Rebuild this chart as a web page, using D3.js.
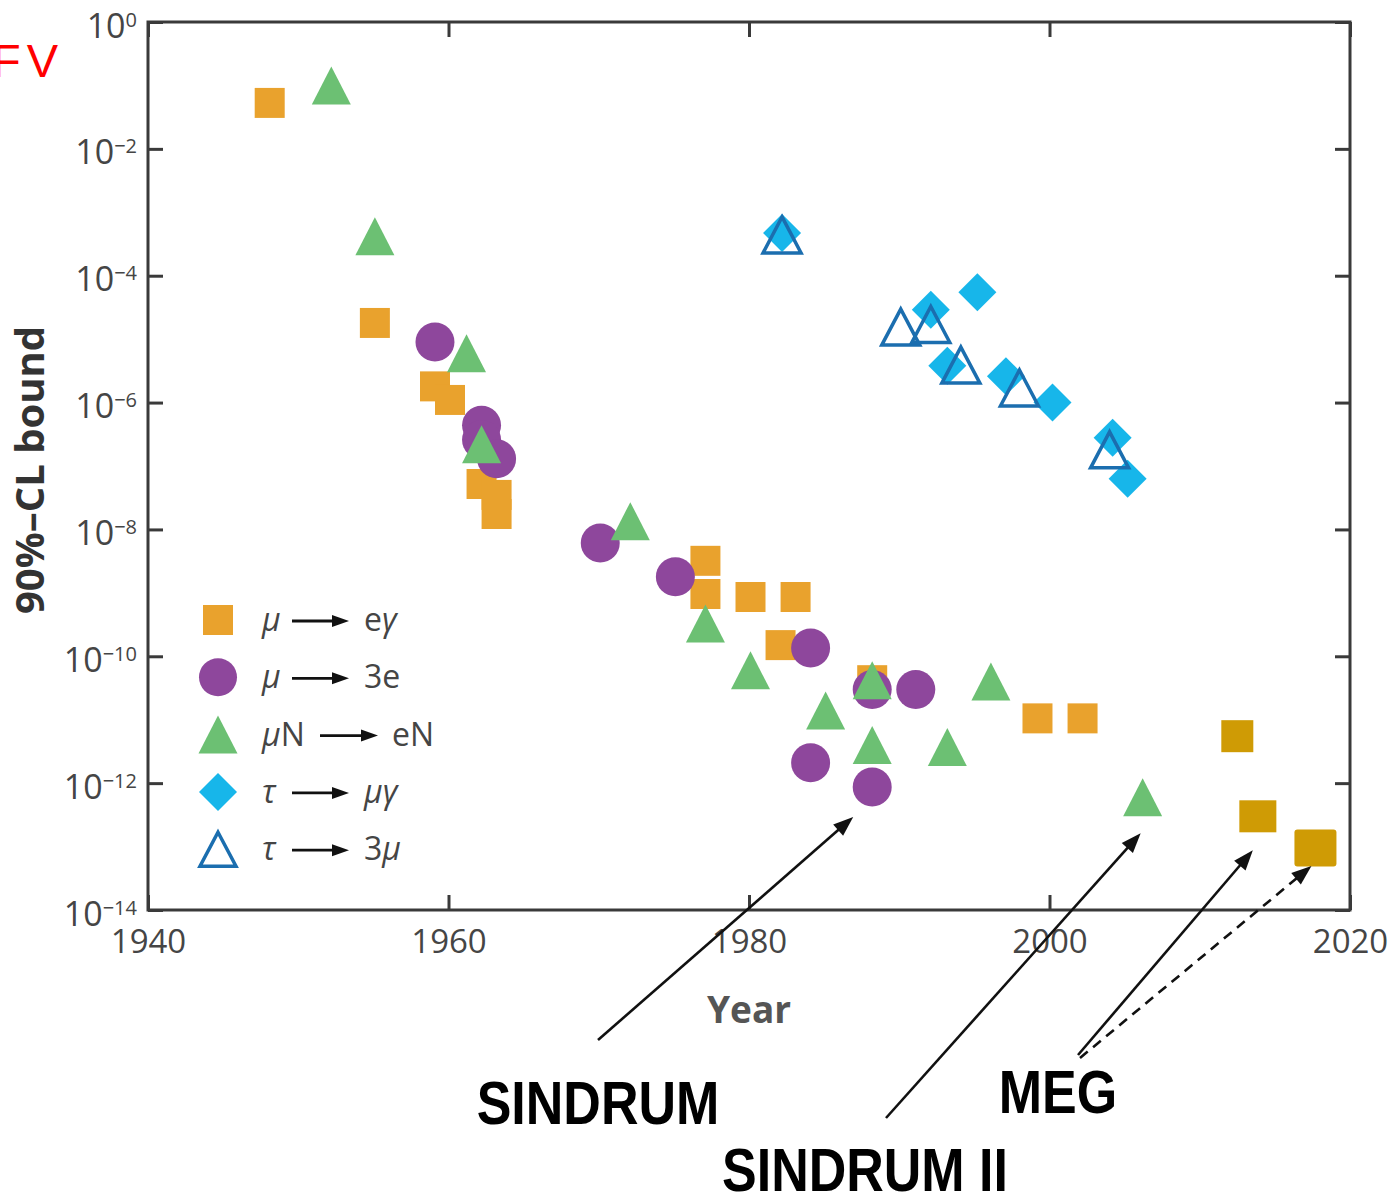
<!DOCTYPE html>
<html>
<head>
<meta charset="utf-8">
<script src="https://cdn.jsdelivr.net/npm/d3@7"></script>
<style>
  html, body { margin: 0; padding: 0; background: #fff; overflow: hidden; }
  svg { display: block; font-family: "Open Sans", "DejaVu Sans", sans-serif; }
</style>
</head>
<body>
<svg id="chart" width="1391" height="1197"></svg>
<script>
// mu -> e gamma (earlier experiments)
const muEgYear = [1948.1, 1955.1, 1959.1, 1960.1, 1962.2, 1963.2, 1963.2, 1977.1, 1977.1, 1980.1, 1982.1, 1983.1, 1988.2, 1999.2, 2002.2];
const muEgValue = [5.3e-2, 1.8e-5, 1.8e-6, 1.1e-6, 5.2e-8, 3.5e-8, 1.75e-8, 3.2e-9, 9.6e-10, 8.6e-10, 1.5e-10, 8.6e-10, 4.2e-11, 1.05e-11, 1.05e-11];
// MEG results
const megYear = [2012.5, 2013.8, 2017.7];
const megValue = [5.5e-12, 3.0e-13, 9.5e-14];
// mu -> 3e
const mu3eYear = [1959.1, 1962.2, 1962.2, 1963.2, 1970.1, 1975.1, 1984.1, 1988.2, 1991.1, 1984.1, 1988.2];
const mu3eValue = [9e-6, 4.4e-7, 2.6e-7, 1.3e-7, 6.1e-9, 1.8e-9, 1.35e-10, 3e-11, 3e-11, 2.1e-12, 8.7e-13];
// mu N -> e N
const muNYear = [1952.2, 1955.1, 1961.2, 1962.2, 1972.1, 1977.1, 1980.1, 1985.1, 1988.2, 1988.2, 1993.2, 1996.1, 2006.2];
const muNValue = [1e-1, 4.2e-4, 6e-6, 2.2e-7, 1.35e-8, 3.3e-10, 6e-11, 1.4e-11, 4.2e-11, 4e-12, 3.7e-12, 4e-11, 6e-13];
// tau -> mu gamma
const tauMuGYear = [1982.2, 1992.1, 1995.2, 1993.2, 1997.1, 2000.2, 2004.2, 2005.2];
const tauMuGValue = [4.7e-4, 2.9e-5, 5.5e-5, 3.8e-6, 2.6e-6, 1e-6, 2.8e-7, 6.3e-8];
// tau -> 3 mu
const tau3MuYear = [1982.2, 1990.1, 1992.1, 1994.1, 1998.0, 2004.0];
const tau3MuValue = [4.4e-4, 1.55e-5, 1.7e-5, 3.9e-6, 1.7e-6, 1.8e-7];

const xTicks = [1940, 1960, 1980, 2000, 2020];
const yTickExp = [0, -2, -4, -6, -8, -10, -12, -14];
const legendLabels = [["μ", "eγ"], ["μ", "3e"], ["μN", "eN"], ["τ", "μγ"], ["τ", "3μ"]];

const col = { orange: "#E9A22D", gold: "#CF9B05", purple: "#8E479C", green: "#6CC073", cyan: "#17B6EA", blue: "#1B6EAF", axis: "#3a3a3a", text: "#454545" };
const megSizes = [32, 35, 40];

const svg = d3.select("#chart");
const x = d3.scaleLinear().domain([1940, 2020]).range([148, 1350]);
const y = d3.scaleLog().domain([1, 1e-14]).range([22, 910]);

// ---- axes
function styleAxis(g) {
  g.select(".domain").remove();
  g.selectAll(".tick line").attr("stroke", col.axis).attr("stroke-width", 3);
  g.selectAll(".tick text").attr("fill", col.text).attr("font-size", 33);
}
svg.append("g").attr("transform", "translate(0,910)")
  .call(d3.axisBottom(x).tickValues(xTicks).tickFormat(d3.format("d")).tickSize(-15).tickPadding(20))
  .call(styleAxis).call(g => g.attr("font-family", null));
svg.append("g").attr("transform", "translate(0,22)")
  .call(d3.axisTop(x).tickValues(xTicks).tickFormat("").tickSize(-15))
  .call(styleAxis);
svg.append("g").attr("transform", "translate(148,0)")
  .call(d3.axisLeft(y).tickValues(yTickExp.map(e => Math.pow(10, e))).tickSize(-15).tickPadding(11).tickFormat(""))
  .call(styleAxis)
  .call(g => g.attr("font-family", null))
  .selectAll(".tick text")
  .each(function (d) {
    const t = d3.select(this).attr("dy", null).attr("font-size", 34);
    const e = Math.round(Math.log10(d));
    t.append("tspan").attr("dy", 15).text("10");
    t.append("tspan").attr("font-size", 20).attr("dy", -11).text(e === 0 ? "0" : "−" + (-e));
  });
svg.append("g").attr("transform", "translate(1350,0)")
  .call(d3.axisRight(y).tickValues(yTickExp.map(e => Math.pow(10, e))).tickSize(-15).tickFormat(""))
  .call(styleAxis);
svg.append("rect").attr("x", 148).attr("y", 22).attr("width", 1350 - 148).attr("height", 910 - 22)
  .attr("fill", "none").attr("stroke", col.axis).attr("stroke-width", 3);

// axis titles
svg.append("text").attr("transform", "translate(44,470) rotate(-90)")
  .attr("text-anchor", "middle").attr("font-weight", 700).attr("font-size", 40).attr("fill", "#333")
  .text("90%–CL bound");
svg.append("text").attr("x", 749).attr("y", 1023).attr("text-anchor", "middle")
  .attr("font-weight", 700).attr("font-size", 37).attr("fill", "#555").text("Year");
// label partly outside the left edge, as in the original figure
svg.append("text").attr("x", -8).attr("y", 77).attr("letter-spacing", 6)
  .attr("font-family", "Liberation Sans, Arial, sans-serif").attr("font-size", 47).attr("fill", "#ff0000").text("FV");

// ---- marker shapes
const sq = s => `M${-s / 2},${-s / 2}h${s}v${s}h${-s}Z`;
const tri = (w, h) => `M0,${-h / 2}L${w / 2},${h / 2}L${-w / 2},${h / 2}Z`;
const dia = r => `M0,${-r}L${r},0L0,${r}L${-r},0Z`;

const plot = svg.append("g");
function series(years, vals, path, fill, stroke, sw) {
  plot.append("g").selectAll("path").data(d3.zip(years, vals)).join("path")
    .attr("transform", d => `translate(${x(d[0])},${y(d[1])})`)
    .attr("d", path)
    .attr("fill", fill).attr("stroke", stroke || "none").attr("stroke-width", sw || 0)
    .attr("stroke-linejoin", "miter");
}
series(muEgYear, muEgValue, sq(30), col.orange);
plot.append("g").selectAll("rect").data(d3.zip(megYear, megValue)).join("rect")
  .attr("x", (d, i) => x(d[0]) - megSizes[i] / 2 - (i === 2 ? 1 : 0))
  .attr("y", (d, i) => y(d[1]) - (megSizes[i] - (i > 0 ? 3 : 0)) / 2)
  .attr("width", (d, i) => megSizes[i] + (i > 0 ? 2 : 0))
  .attr("height", (d, i) => megSizes[i] - (i > 0 ? 3 : 0))
  .attr("rx", (d, i) => i === 2 ? 3 : 0)
  .attr("fill", col.gold);
plot.append("g").selectAll("circle").data(d3.zip(mu3eYear, mu3eValue)).join("circle")
  .attr("cx", d => x(d[0])).attr("cy", d => y(d[1])).attr("r", 19.5).attr("fill", col.purple);
series(muNYear, muNValue, tri(39, 38), col.green);
series(tauMuGYear, tauMuGValue, dia(19), col.cyan);
series(tau3MuYear, tau3MuValue, tri(38, 36), "none", col.blue, 3.5);

// ---- legend
const legend = svg.append("g");
const legendShapes = [
  g => g.append("path").attr("d", sq(30)).attr("fill", col.orange),
  g => g.append("circle").attr("r", 19).attr("fill", col.purple),
  g => g.append("path").attr("d", tri(39, 38)).attr("fill", col.green),
  g => g.append("path").attr("d", dia(19)).attr("fill", col.cyan),
  g => g.append("path").attr("d", tri(36, 34)).attr("fill", "none").attr("stroke", col.blue).attr("stroke-width", 3.5)
];
function arrow(g, x1, y1, x2, y2, head, sw, dash) {
  const a = Math.atan2(y2 - y1, x2 - x1);
  const L = head[0], W = head[1];
  const bx = x2 - L * Math.cos(a), by = y2 - L * Math.sin(a);
  g.append("line").attr("x1", x1).attr("y1", y1).attr("x2", bx + 2 * Math.cos(a)).attr("y2", by + 2 * Math.sin(a))
    .attr("stroke", "#111").attr("stroke-width", sw).attr("stroke-dasharray", dash || null);
  const px = -Math.sin(a) * W / 2, py = Math.cos(a) * W / 2;
  g.append("path").attr("d", `M${x2},${y2}L${bx + px},${by + py}L${bx - px},${by - py}Z`).attr("fill", "#111");
}
legendLabels.forEach((lab, i) => {
  const cy = 620 + i * 57.3;
  const row = legend.append("g");
  legendShapes[i](row.append("g").attr("transform", `translate(218,${cy})`));
  const wide = lab[0].length > 1;
  row.append("text").attr("x", 262).attr("y", cy + 11).attr("font-size", 32).attr("fill", col.text)
    .attr("font-style", wide ? null : "italic")
    .call(t => {
      if (wide) { t.append("tspan").attr("font-style", "italic").text("μ"); t.append("tspan").text("N"); }
      else t.text(lab[0]);
    });
  const ax0 = wide ? 320 : 292, ax1 = wide ? 378 : 349;
  arrow(row, ax0, cy + 1, ax1, cy + 1, [17, 12], 2.8);
  row.append("text").attr("x", wide ? 392 : 364).attr("y", cy + 11).attr("font-size", 32).attr("fill", col.text)
    .call(t => {
      const s = lab[1];
      if (s === "eγ") { t.append("tspan").text("e"); t.append("tspan").attr("font-style", "italic").text("γ"); }
      else if (s === "μγ") t.append("tspan").attr("font-style", "italic").text("μγ");
      else if (s === "3μ") { t.append("tspan").text("3"); t.append("tspan").attr("font-style", "italic").text("μ"); }
      else t.text(s);
    });
});

// ---- experiment annotations
const ann = svg.append("g");
const sindrum = [mu3eYear[10], mu3eValue[10]];
const sindrum2 = [muNYear[12], muNValue[12]];
arrow(ann, 598, 1040, x(sindrum[0]) - 19, y(sindrum[1]) + 30, [20, 15], 2.6);
arrow(ann, 886, 1118, x(sindrum2[0]) - 2, y(sindrum2[1]) + 36, [20, 15], 2.6);
arrow(ann, 1078, 1055, x(megYear[1]) - 4, y(megValue[1]) + 34, [20, 15], 2.6);
arrow(ann, 1080, 1058, x(megYear[2]) - 4, y(megValue[2]) + 18, [20, 15], 2.6, "10,7");

const annFont = "Liberation Sans, Arial, sans-serif";
[["SINDRUM", 598, 1124], ["SINDRUM II", 865, 1191], ["MEG", 1058, 1113]].forEach(([t, tx, ty]) => {
  ann.append("text").attr("transform", `translate(${tx},${ty}) scale(1,1.17)`)
    .attr("text-anchor", "middle").attr("font-family", annFont).attr("font-weight", 700)
    .attr("font-size", 52).attr("fill", "#000").text(t);
});
</script>
</body>
</html>
